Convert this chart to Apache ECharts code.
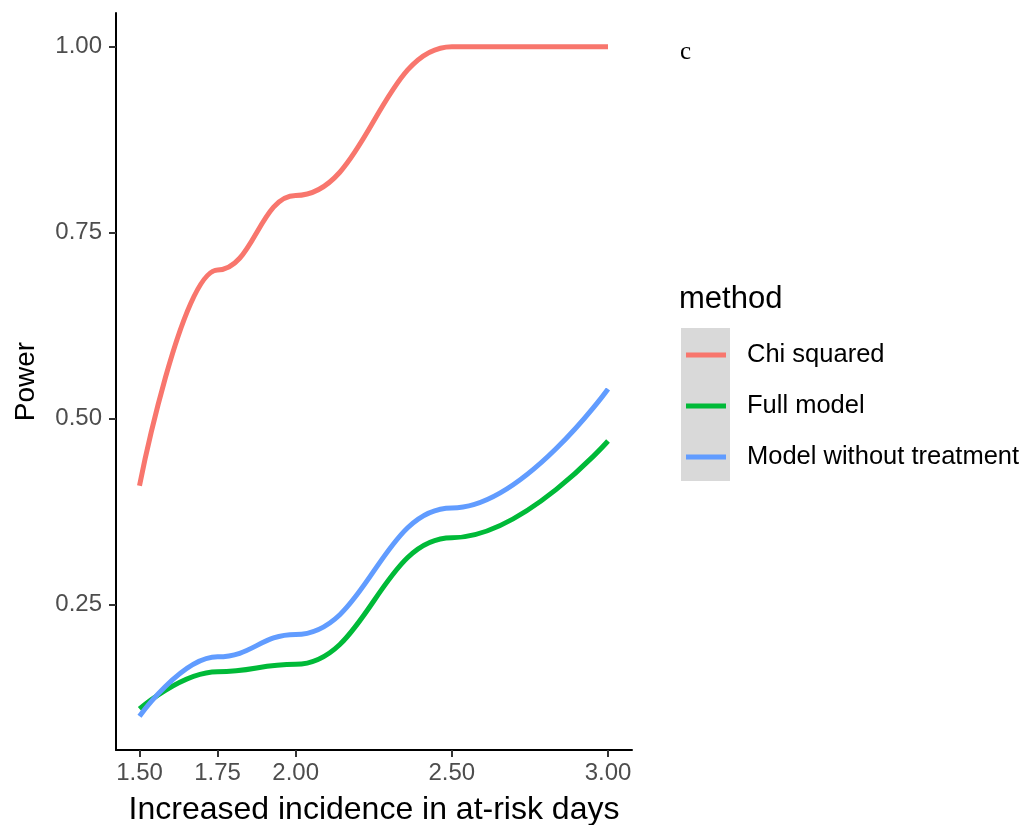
<!DOCTYPE html>
<html>
<head>
<meta charset="utf-8">
<script src="https://cdn.jsdelivr.net/npm/echarts@6/dist/echarts.min.js"></script>
<style>
html,body{margin:0;padding:0;background:#fff;}
#chart{width:1024px;height:825px;}
</style>
</head>
<body>
<div id="chart"></div>
<script>
const xValues = [1.5, 1.75, 2.0, 2.5, 3.0];
const chiSquared = [0.41, 0.70, 0.80, 1.00, 1.00];
const fullModel = [0.11, 0.16, 0.17, 0.34, 0.47];
const modelWithoutTreatment = [0.10, 0.18, 0.21, 0.38, 0.54];
const seriesNames = ['Chi squared', 'Full model', 'Model without treatment'];
const xTicks = [1.5, 1.75, 2.0, 2.5, 3.0];
const yTicks = [0.25, 0.5, 0.75, 1.0];

const colors = ['#F8766D', '#00BA38', '#619CFF'];
const values = [chiSquared, fullModel, modelWithoutTreatment];
const FONT = 'Liberation Sans, Arial, sans-serif';

const chart = echarts.init(document.getElementById('chart'));
chart.setOption({
  animation: false,
  backgroundColor: '#fff',
  textStyle: { fontFamily: FONT },
  grid: { left: 116, right: 392, top: 13, bottom: 75, containLabel: false, outerBoundsMode: 'none' },
  title: [
    { text: 'method', left: 679, top: 284, padding: 0,
      textStyle: { fontFamily: FONT, fontSize: 31, fontWeight: 'normal', color: '#000' } },
    { text: 'c', left: 680, top: 40, padding: 0,
      textStyle: { fontFamily: 'Liberation Serif, Times New Roman, serif', fontSize: 25, fontWeight: 'normal', color: '#000' } }
  ],
  graphic: [
    { type: 'rect', z: 0, shape: { x: 681, y: 328, width: 49, height: 153 }, style: { fill: '#d9d9d9' } }
  ],
  legend: {
    orient: 'vertical', left: 686, top: 341, padding: 0,
    icon: 'rect', itemWidth: 40, itemHeight: 5, itemGap: 23,
    textStyle: { fontFamily: FONT, fontSize: 25.5, color: '#000', lineHeight: 28, padding: [0, 0, 0, 16] },
    data: seriesNames
  },
  xAxis: {
    type: 'value', min: 1.4248, max: 3.0768,
    name: 'Increased incidence in at-risk days', nameLocation: 'middle', nameGap: 44,
    nameTextStyle: { fontFamily: FONT, fontSize: 32, color: '#000' },
    axisLine: { show: true, lineStyle: { color: '#000', width: 2 } },
    axisTick: { show: true, length: 7, lineStyle: { color: '#333', width: 2 }, customValues: xTicks },
    axisLabel: { customValues: xTicks, fontSize: 24, color: '#4d4d4d', margin: 11,
      formatter: v => v.toFixed(2) },
    splitLine: { show: false }
  },
  yAxis: {
    type: 'value', min: 0.0547, max: 1.0453,
    name: 'Power', nameLocation: 'middle', nameGap: 76,
    nameTextStyle: { fontFamily: FONT, fontSize: 28, color: '#000' },
    axisLine: { show: true, lineStyle: { color: '#000', width: 2 } },
    axisTick: { show: true, length: 7, lineStyle: { color: '#333', width: 2 }, customValues: yTicks },
    axisLabel: { customValues: yTicks, fontSize: 24, color: '#4d4d4d', margin: 14,
      formatter: v => v.toFixed(2) },
    splitLine: { show: false }
  },
  series: seriesNames.map((name, i) => ({
    name: name,
    type: 'line',
    data: xValues.map((x, j) => [x, values[i][j]]),
    smooth: 0.45,
    smoothMonotone: 'x',
    showSymbol: false,
    symbol: 'none',
    lineStyle: { color: colors[i], width: 5 },
    itemStyle: { color: colors[i] },
    z: 3 + i
  }))
});
</script>
</body>
</html>
